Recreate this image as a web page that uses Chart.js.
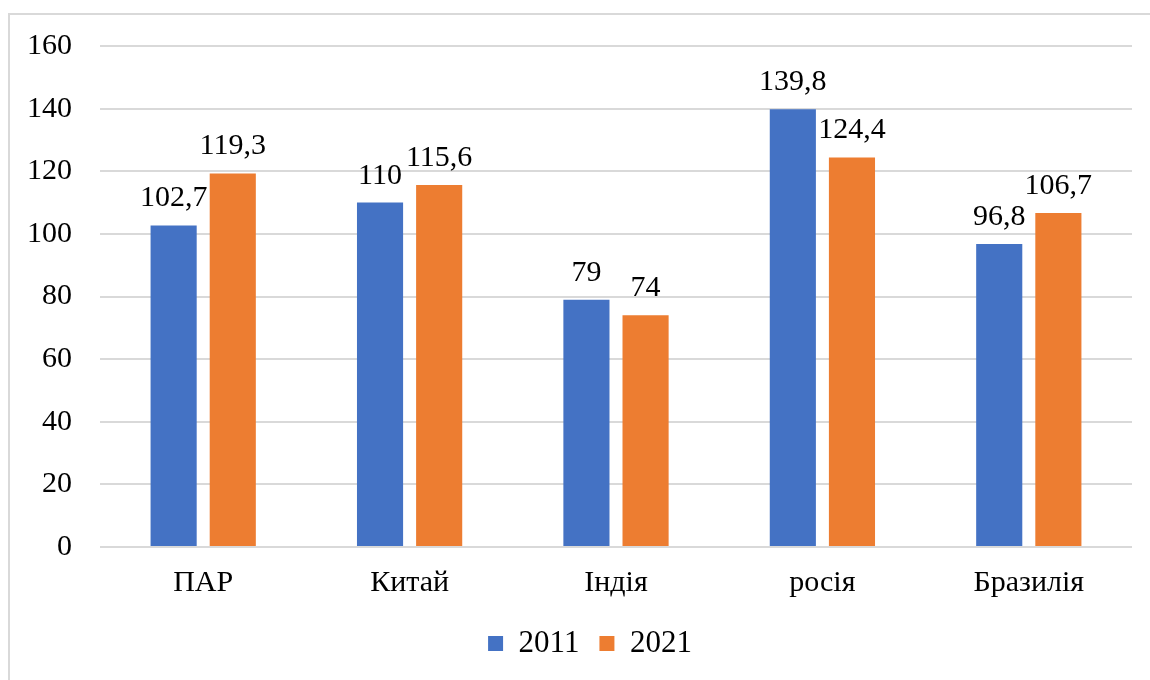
<!DOCTYPE html>
<html>
<head>
<meta charset="utf-8">
<script src="https://cdn.jsdelivr.net/npm/chart.js@4"></script>
<style>
  body { margin: 0; background: #fff; }
  #frame { position: absolute; left: 8px; top: 13px; width: 1200px; height: 720px;
           border-left: 2px solid #d9d9d9; border-top: 2px solid #d9d9d9; }
  #wrap { position: absolute; left: 0; top: 0; width: 1150px; height: 680px; }
</style>
</head>
<body>
<div id="frame"></div>
<div id="wrap"><canvas id="chart"></canvas></div>
<script>
var countries = ['ПАР', 'Китай', 'Індія', 'росія', 'Бразилія'];
var values2011 = [102.7, 110, 79, 139.8, 96.8];
var values2021 = [119.3, 115.6, 74, 124.4, 106.7];
var seriesNames = ['2011', '2021'];

var serif = "'Liberation Serif', 'Times New Roman', serif";

// draws the number above every bar, with a decimal comma
var barLabels = {
    id: 'barLabels',
    afterLayout: function (chart) {
        // let the y tick labels spill into the left padding without clipping
        chart.scales.y.left = 0;
    },
    afterDatasetsDraw: function (chart) {
        var ctx = chart.ctx;
        ctx.save();
        ctx.font = '30px ' + serif;
        ctx.fillStyle = '#000';
        ctx.textAlign = 'center';
        ctx.textBaseline = 'alphabetic';
        chart.data.datasets.forEach(function (ds, i) {
            chart.getDatasetMeta(i).data.forEach(function (bar, j) {
                ctx.fillText(String(ds.data[j]).replace('.', ','), bar.x, bar.y - 19);
            });
        });
        ctx.restore();
    }
};

new Chart(document.getElementById('chart'), {
    type: 'bar',
    data: {
        labels: countries,
        datasets: [
            { label: seriesNames[0], data: values2011, backgroundColor: '#4472C4' },
            { label: seriesNames[1], data: values2021, backgroundColor: '#ED7D31' }
        ]
    },
    options: {
        responsive: true,
        maintainAspectRatio: false,
        animation: false,
        categoryPercentage: 0.573,
        barPercentage: 0.78,
        layout: { padding: { left: 48, right: 18, top: 45, bottom: 11 } },
        scales: {
            x: {
                grid: { display: false, drawTicks: false },
                border: { display: false },
                ticks: { color: '#000', font: { family: serif, size: 30 }, padding: 18 },
                afterFit: function (scale) { scale.height = 61; }
            },
            y: {
                min: 0,
                max: 160,
                ticks: { stepSize: 20, color: '#000', font: { family: serif, size: 30 }, padding: 28 },
                grid: { color: '#d9d9d9', lineWidth: 2, drawTicks: false },
                border: { display: false },
                afterFit: function (scale) { scale.width = 52; }
            }
        },
        plugins: {
            legend: {
                position: 'bottom',
                labels: { boxWidth: 15, boxHeight: 15, padding: 20, color: '#000', font: { family: serif, size: 31 } }
            },
            tooltip: { enabled: false }
        }
    },
    plugins: [barLabels]
});
</script>
</body>
</html>
